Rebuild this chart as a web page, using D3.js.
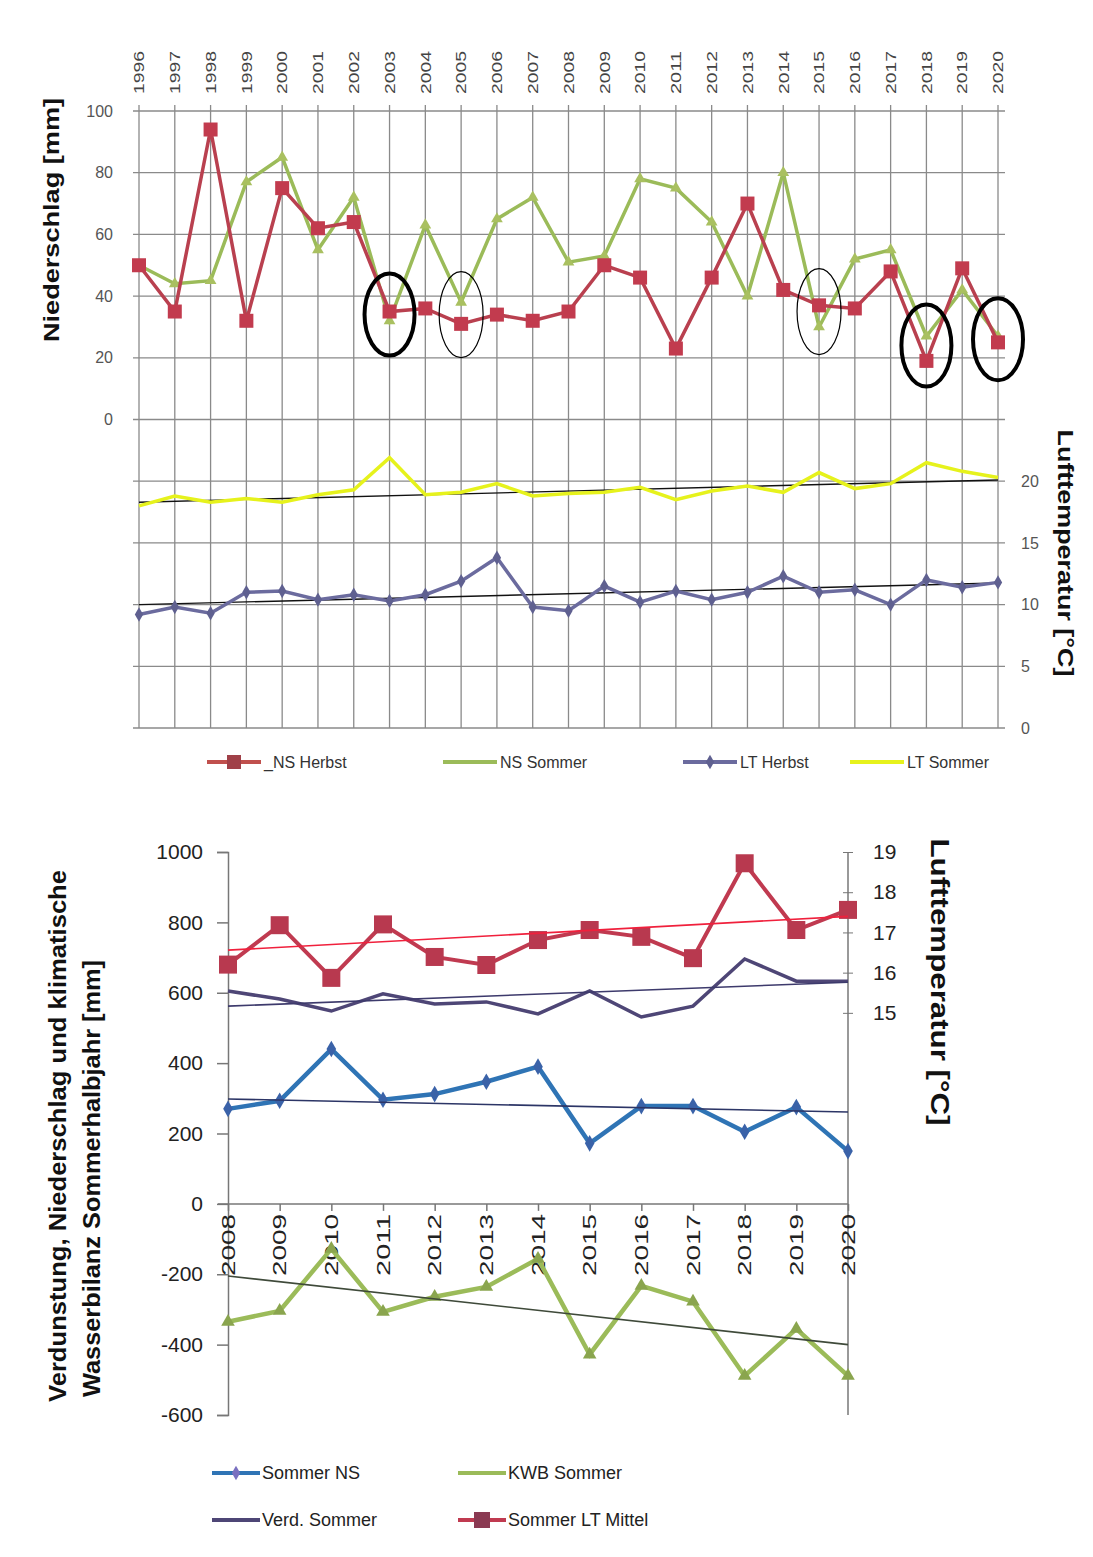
<!DOCTYPE html>
<html>
<head>
<meta charset="utf-8">
<script src="https://cdn.jsdelivr.net/npm/d3@7/dist/d3.min.js"></script>
<style>
  body { margin: 0; background: #fff; }
  svg { display: block; }
  text { font-family: "Liberation Sans", Arial, sans-serif; }
</style>
</head>
<body>
<svg id="chart" width="1093" height="1557"></svg>
<script>
// ---------- data: top chart (1996-2020) ----------
const yearsTop = ['1996','1997','1998','1999','2000','2001','2002','2003','2004','2005','2006','2007','2008',
  '2009','2010','2011','2012','2013','2014','2015','2016','2017','2018','2019','2020']
const nsHerbst = [50,35,94,32,75,62,64,35,36,31,34,32,35,50,46,23,46,70,42,37,36,48,19,49,25]
const nsSommer = [50,44,45,77,85,55,72,32,63,38,65,72,51,53,78,75,64,40,80,30,52,55,27,42,27]
const ltHerbst = [9.2,9.8,9.3,11.0,11.1,10.4,10.8,10.3,10.8,11.9,13.8,9.8,9.5,11.5,10.2,11.1,10.4,11.0,12.3,11.0,11.2,10.0,12.0,11.4,11.8]
const ltSommer = [18.0,18.8,18.3,18.6,18.3,18.9,19.3,21.9,18.9,19.1,19.8,18.8,19.0,19.1,19.5,18.5,19.2,19.6,19.1,20.7,19.4,19.8,21.5,20.8,20.3]
// trendline ends (first / last year)
const ltSommerTrend = [18.3, 20.1]
const ltHerbstTrend = [10.0, 11.75]
const nsTicks = [0,20,40,60,80,100]
const ltTicks = [0,5,10,15,20]
// circled years: [year, value, bold]
const marked = [['2003',34,true],['2005',34,false],['2015',35,false],['2018',24,true],['2020',26,true]]

// ---------- data: bottom chart (2008-2020) ----------
const yearsBot = ['2008','2009','2010','2011','2012','2013','2014','2015','2016','2017','2018','2019','2020']
const sommerNS = [270,293,440,296,312,347,390,172,278,278,205,275,150]
const verdSommer = [605,582,548,597,568,574,540,605,531,562,696,633,633]
const kwbSommer = [-335,-304,-128,-307,-264,-236,-156,-428,-233,-278,-489,-355,-489]
const sommerLT = [16.2,17.18,15.87,17.2,16.39,16.19,16.81,17.06,16.89,16.36,18.72,17.06,17.56]
const sommerNSTrend = [298, 261]
const verdTrend = [562, 630]
const kwbTrend = [-205, -400]
const sommerLTTrend = [16.56, 17.4]
const mmTicks = [-600,-400,-200,0,200,400,600,800,1000]
const tTicks = [15,16,17,18,19]

const svg = d3.select('#chart')

// ================= TOP CHART =================
const xTop = d3.scalePoint().domain(yearsTop).range([139, 998])
const yNS = d3.scaleLinear().domain([-100, 100]).range([728, 111])
const yLT = d3.scaleLinear().domain([0, 50]).range([728, 111])

const topG = svg.append('g')

// grid
topG.selectAll('.hgrid').data(d3.range(-100, 101, 20)).enter().append('line')
  .attr('x1', 133).attr('x2', 1005)
  .attr('y1', d => yNS(d)).attr('y2', d => yNS(d))
  .attr('stroke', '#8a8a8a').attr('stroke-width', 1.3)
topG.selectAll('.vgrid').data(yearsTop).enter().append('line')
  .attr('x1', d => xTop(d)).attr('x2', d => xTop(d))
  .attr('y1', 105).attr('y2', 728)
  .attr('stroke', '#8a8a8a').attr('stroke-width', 1.3)

// year labels on top
topG.selectAll('.ylab').data(yearsTop).enter().append('text')
  .attr('transform', d => `translate(${xTop(d)},94) rotate(-90)`)
  .attr('dy', '0.35em')
  .attr('font-size', 15)
  .attr('textLength', 43).attr('lengthAdjust', 'spacingAndGlyphs')
  .attr('fill', '#444')
  .text(d => d)

// left ticks
topG.selectAll('.nsl').data(nsTicks).enter().append('text')
  .attr('x', 113).attr('y', d => yNS(d)).attr('dy', '0.35em')
  .attr('text-anchor', 'end').attr('font-size', 16).attr('fill', '#555')
  .text(d => d)
// right ticks
topG.selectAll('.ltl').data(ltTicks).enter().append('text')
  .attr('x', 1021).attr('y', d => yLT(d)).attr('dy', '0.35em')
  .attr('font-size', 16).attr('fill', '#555')
  .text(d => d)

// axis titles
topG.append('text')
  .attr('transform', 'translate(51,220) rotate(-90)')
  .attr('text-anchor', 'middle').attr('dy', '0.35em')
  .attr('font-size', 22).attr('font-weight', 'bold').attr('fill', '#111')
  .attr('textLength', 244).attr('lengthAdjust', 'spacingAndGlyphs')
  .text('Niederschlag [mm]')
topG.append('text')
  .attr('transform', 'translate(1066,553) rotate(90)')
  .attr('text-anchor', 'middle').attr('dy', '0.35em')
  .attr('font-size', 22).attr('font-weight', 'bold').attr('fill', '#111')
  .attr('textLength', 247).attr('lengthAdjust', 'spacingAndGlyphs')
  .text('Lufttemperatur [°C]')

// trend lines for temperatures
;[ltSommerTrend, ltHerbstTrend].forEach(t => {
  topG.append('line')
    .attr('x1', xTop(yearsTop[0])).attr('x2', xTop(yearsTop[yearsTop.length - 1]))
    .attr('y1', yLT(t[0])).attr('y2', yLT(t[1]))
    .attr('stroke', '#111').attr('stroke-width', 1.4)
})

const lineTop = (scale) => d3.line().x((d, i) => xTop(yearsTop[i])).y(d => scale(d))

// LT Sommer
topG.append('path').datum(ltSommer).attr('d', lineTop(yLT))
  .attr('fill', 'none').attr('stroke', '#e6f21c').attr('stroke-width', 3.5)
// LT Herbst
topG.append('path').datum(ltHerbst).attr('d', lineTop(yLT))
  .attr('fill', 'none').attr('stroke', '#6b6b9e').attr('stroke-width', 3.5)
topG.selectAll('.lth').data(ltHerbst).enter().append('path')
  .attr('transform', (d, i) => `translate(${xTop(yearsTop[i])},${yLT(d)})`)
  .attr('d', d3.symbol(d3.symbolDiamond, 60))
  .attr('fill', '#5f6090')

// NS Sommer
topG.append('path').datum(nsSommer).attr('d', lineTop(yNS))
  .attr('fill', 'none').attr('stroke', '#9bbb59').attr('stroke-width', 3.5)
topG.selectAll('.nss').data(nsSommer).enter().append('path')
  .attr('transform', (d, i) => `translate(${xTop(yearsTop[i])},${yNS(d)})`)
  .attr('d', d3.symbol(d3.symbolTriangle, 60))
  .attr('fill', '#a9c060')

// NS Herbst
topG.append('path').datum(nsHerbst).attr('d', lineTop(yNS))
  .attr('fill', 'none').attr('stroke', '#b9404f').attr('stroke-width', 3.5)
topG.selectAll('.nsh').data(nsHerbst).enter().append('rect')
  .attr('x', (d, i) => xTop(yearsTop[i]) - 7).attr('y', d => yNS(d) - 7)
  .attr('width', 14).attr('height', 14)
  .attr('fill', '#c23b4e')

// circled years
topG.selectAll('.mark').data(marked).enter().append('ellipse')
  .attr('cx', d => xTop(d[0]))
  .attr('cy', d => yNS(d[1]))
  .attr('rx', d => d[2] ? 25 : 22).attr('ry', d => d[2] ? 41 : 43)
  .attr('fill', 'none').attr('stroke', '#000')
  .attr('stroke-width', d => d[2] ? 4 : 1.2)

// legend top
const legTop = [
  {label: '_NS Herbst', color: '#c0504d', mark: 'sq', x: 207},
  {label: 'NS Sommer', color: '#9bbb59', mark: 'tri', x: 443},
  {label: 'LT Herbst', color: '#6b6b9e', mark: 'dia', x: 683},
  {label: 'LT Sommer', color: '#e6f21c', mark: 'none', x: 850}
]
const lt = topG.selectAll('.leg').data(legTop).enter().append('g')
  .attr('transform', d => `translate(${d.x},762)`)
lt.append('line').attr('x1', 0).attr('x2', 54).attr('y1', 0).attr('y2', 0)
  .attr('stroke', d => d.color).attr('stroke-width', 4)
lt.filter(d => d.mark === 'sq').append('rect')
  .attr('x', 20).attr('y', -7).attr('width', 14).attr('height', 14).attr('fill', '#a04048')
lt.filter(d => d.mark === 'dia').append('path')
  .attr('transform', 'translate(27,0)').attr('d', d3.symbol(d3.symbolDiamond, 60)).attr('fill', '#5f6090')
lt.append('text').attr('x', 57).attr('y', 0).attr('dy', '0.35em')
  .attr('font-size', 16).attr('fill', '#333')
  .text(d => d.label)

// ================= BOTTOM CHART =================
const xBot = d3.scalePoint().domain(yearsBot).range([228, 848])
const yMM = d3.scaleLinear().domain([-600, 1000]).range([1415, 852])
const yT = d3.scaleLinear().domain([5, 19]).range([1415, 852])

const bot = svg.append('g')

// left axis
const axL = bot.append('g').attr('transform', 'translate(228,0)')
  .call(d3.axisLeft(yMM).tickValues(mmTicks).tickSize(11).tickPadding(14).tickFormat(d => String(d)))
axL.select('.domain').attr('stroke', '#777').attr('stroke-width', 1.5)
axL.selectAll('.tick line').attr('stroke', '#777').attr('stroke-width', 1.5)
axL.selectAll('text').attr('font-size', 21).attr('fill', '#222')
  .attr('font-family', '"Liberation Sans", Arial, sans-serif')

// right axis (temperature), full height line
bot.append('line').attr('x1', 848).attr('x2', 848).attr('y1', 852).attr('y2', 1415)
  .attr('stroke', '#777').attr('stroke-width', 1.5)
const axR = bot.append('g').attr('transform', 'translate(848,0)')
  .call(d3.axisRight(yT).tickValues(tTicks).tickSize(0).tickPadding(25))
axR.select('.domain').remove()
axR.selectAll('.tick').append('line').attr('x1', -5).attr('x2', 5).attr('stroke', '#777')
axR.selectAll('text').attr('font-size', 21).attr('fill', '#222')
  .attr('font-family', '"Liberation Sans", Arial, sans-serif')

// x axis at zero
const axX = bot.append('g').attr('transform', `translate(0,${yMM(0)})`)
  .call(d3.axisBottom(xBot).tickSize(7).tickFormat(''))
axX.select('.domain').attr('stroke', '#777').attr('stroke-width', 1.5).attr('d', `M218,0H848`)
axX.selectAll('.tick line').attr('stroke', '#777').attr('stroke-width', 1.5)
bot.selectAll('.xl').data(yearsBot).enter().append('text')
  .attr('transform', d => `translate(${xBot(d)},${yMM(0) + 72}) rotate(-90)`)
  .attr('dy', '0.35em')
  .attr('font-size', 19).attr('fill', '#222')
  .attr('textLength', 62).attr('lengthAdjust', 'spacingAndGlyphs')
  .text(d => d)

// titles
const tl = bot.append('text').attr('font-size', 24).attr('font-weight', 'bold').attr('fill', '#111')
  .attr('transform', 'translate(66,1402) rotate(-90)')
tl.append('tspan').attr('x', 0).attr('y', 0).attr('textLength', 532).attr('lengthAdjust', 'spacingAndGlyphs')
  .text('Verdunstung, Niederschlag und klimatische')
tl.append('tspan').attr('x', 5).attr('y', 34).attr('textLength', 437).attr('lengthAdjust', 'spacingAndGlyphs')
  .text('Wasserbilanz Sommerhalbjahr [mm]')

bot.append('text')
  .attr('transform', 'translate(940,982) rotate(90)')
  .attr('text-anchor', 'middle').attr('dy', '0.35em')
  .attr('font-size', 25).attr('font-weight', 'bold').attr('fill', '#111')
  .attr('textLength', 287).attr('lengthAdjust', 'spacingAndGlyphs')
  .text('Lufttemperatur [°C]')

const lineBot = (scale) => d3.line().x((d, i) => xBot(yearsBot[i])).y(d => scale(d))

// series
bot.append('path').datum(verdSommer).attr('d', lineBot(yMM))
  .attr('fill', 'none').attr('stroke', '#4e4676').attr('stroke-width', 3.5)
bot.append('path').datum(sommerNS).attr('d', lineBot(yMM))
  .attr('fill', 'none').attr('stroke', '#2f74b5').attr('stroke-width', 4.5)
bot.selectAll('.sns').data(sommerNS).enter().append('path')
  .attr('transform', (d, i) => `translate(${xBot(yearsBot[i])},${yMM(d)})`)
  .attr('d', d3.symbol(d3.symbolDiamond, 80)).attr('fill', '#3a62a8')
bot.append('path').datum(kwbSommer).attr('d', lineBot(yMM))
  .attr('fill', 'none').attr('stroke', '#9bbb59').attr('stroke-width', 4.5)
bot.selectAll('.kwb').data(kwbSommer).enter().append('path')
  .attr('transform', (d, i) => `translate(${xBot(yearsBot[i])},${yMM(d)})`)
  .attr('d', d3.symbol(d3.symbolTriangle, 80)).attr('fill', '#8aa54e')
bot.append('path').datum(sommerLT).attr('d', lineBot(yT))
  .attr('fill', 'none').attr('stroke', '#c03a50').attr('stroke-width', 4)
bot.selectAll('.slt').data(sommerLT).enter().append('rect')
  .attr('x', (d, i) => xBot(yearsBot[i]) - 9).attr('y', d => yT(d) - 9)
  .attr('width', 18).attr('height', 18).attr('fill', '#b8394f')

// trend lines
const trendsBot = [
  {ends: sommerNSTrend, scale: yMM, color: '#2c3566'},
  {ends: verdTrend, scale: yMM, color: '#3d3a6c'},
  {ends: kwbTrend, scale: yMM, color: '#3f4a3a'},
  {ends: sommerLTTrend, scale: yT, color: '#f0203c'}
]
trendsBot.forEach(t => {
  bot.append('line')
    .attr('x1', xBot(yearsBot[0])).attr('x2', xBot(yearsBot[yearsBot.length - 1]))
    .attr('y1', t.scale(t.ends[0])).attr('y2', t.scale(t.ends[1]))
    .attr('stroke', t.color).attr('stroke-width', 1.6)
})

// legend bottom
const legBot = [
  {label: 'Sommer NS', color: '#2f74b5', mark: 'dia', x: 212, y: 1473},
  {label: 'KWB Sommer', color: '#9bbb59', mark: 'none', x: 458, y: 1473},
  {label: 'Verd. Sommer', color: '#4e4676', mark: 'none', x: 212, y: 1520},
  {label: 'Sommer LT Mittel', color: '#c03a50', mark: 'sq', x: 458, y: 1520}
]
const lb = bot.selectAll('.lb').data(legBot).enter().append('g')
  .attr('transform', d => `translate(${d.x},${d.y})`)
lb.append('line').attr('x1', 0).attr('x2', 48).attr('y1', 0).attr('y2', 0)
  .attr('stroke', d => d.color).attr('stroke-width', 4)
lb.filter(d => d.mark === 'dia').append('path')
  .attr('transform', 'translate(24,0)').attr('d', d3.symbol(d3.symbolDiamond, 60)).attr('fill', '#7a70c0')
lb.filter(d => d.mark === 'sq').append('rect')
  .attr('x', 16).attr('y', -8).attr('width', 16).attr('height', 16).attr('fill', '#8a3a52')
lb.append('text').attr('x', 50).attr('y', 0).attr('dy', '0.35em')
  .attr('font-size', 18).attr('fill', '#222')
  .attr('font-family', '"Open Sans", sans-serif')
  .text(d => d.label)
</script>
</body>
</html>
